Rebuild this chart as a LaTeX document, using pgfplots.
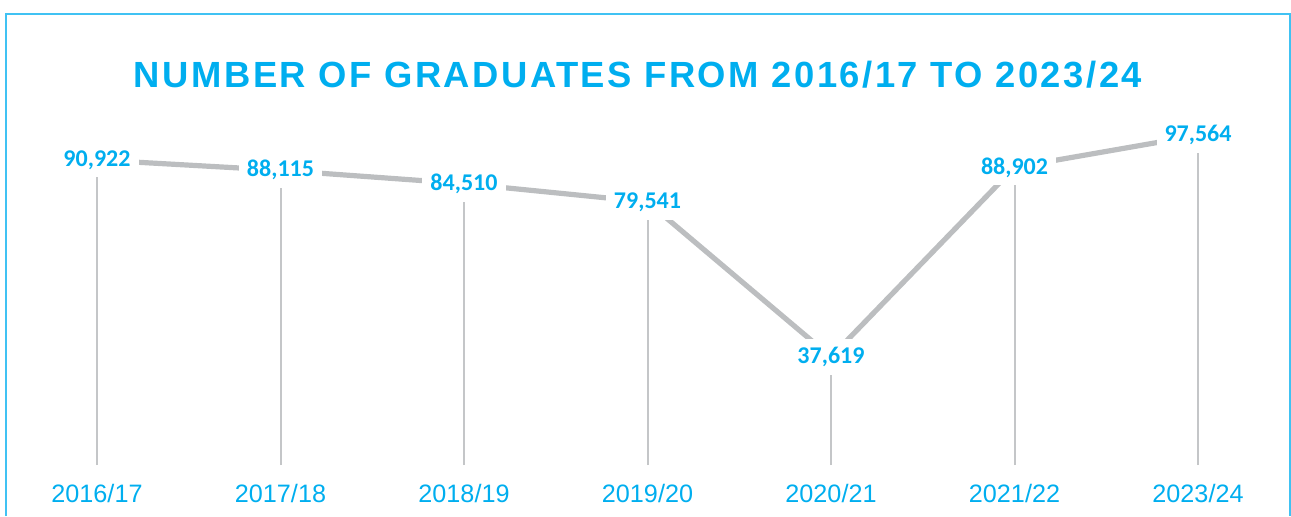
\documentclass[border=0pt]{standalone}
\usepackage{fontspec}
\setmainfont{Liberation Sans}
\newfontfamily\calib{Carlito}
\newfontfamily\titlefont[LetterSpace=6.8]{Liberation Sans}
\usepackage{pgfplots}
\pgfplotsset{compat=1.18}
\definecolor{cblue}{HTML}{00AEEF}
\definecolor{lgray}{HTML}{BCBEC0}
\definecolor{fgray}{HTML}{C4C6C8}
\begin{document}
\begin{tikzpicture}[x=0.5pt,y=0.5pt]
\useasboundingbox (0,0) rectangle (1291,-516);
\draw[cblue!75, line width=1pt] (5.5,-516) -- (5.5,-13.5) -- (1289.5,-13.5) -- (1289.5,-516);
\node[text=cblue, font=\titlefont\bfseries\fontsize{18.2}{20}\selectfont] at (638,-75) {NUMBER OF GRADUATES FROM 2016/17 TO 2023/24};
\begin{axis}[
  at={(2.625pt,-232.5pt)}, anchor=south west,
  scale only axis, width=642.25pt, height=187.8pt,
  xmin=-0.5, xmax=6.5, ymin=8400, ymax=110000,
  axis line style={draw=none},
  ytick=\empty,
  xtick={0,1,2,3,4,5,6},
  xticklabels={2016/17,2017/18,2018/19,2019/20,2020/21,2021/22,2023/24},
  major tick length=0pt,
  xticklabel style={text=cblue, font=\fontsize{12.6}{14}\selectfont, yshift=-6pt},
  clip=true,
  /pgf/number format/.cd, fixed, precision=0, 1000 sep={,}, assume math mode=true,
]
\addplot[ycomb, fgray, line width=1pt, mark=none] coordinates {
  (0,90922) (1,88115) (2,84510) (3,79541) (4,37619) (5,88902) (6,97564)};
\addplot[lgray, line width=2.6pt, mark=none, point meta=y,
  nodes near coords,
  every node near coord/.style={anchor=center, fill=white, inner sep=4pt, text=cblue,
    font=\calib\bfseries\fontsize{12}{14}\selectfont}]
  coordinates {
  (0,90922) (1,88115) (2,84510) (3,79541) (4,37619) (5,88902) (6,97564)};
\end{axis}
\end{tikzpicture}
\end{document}
